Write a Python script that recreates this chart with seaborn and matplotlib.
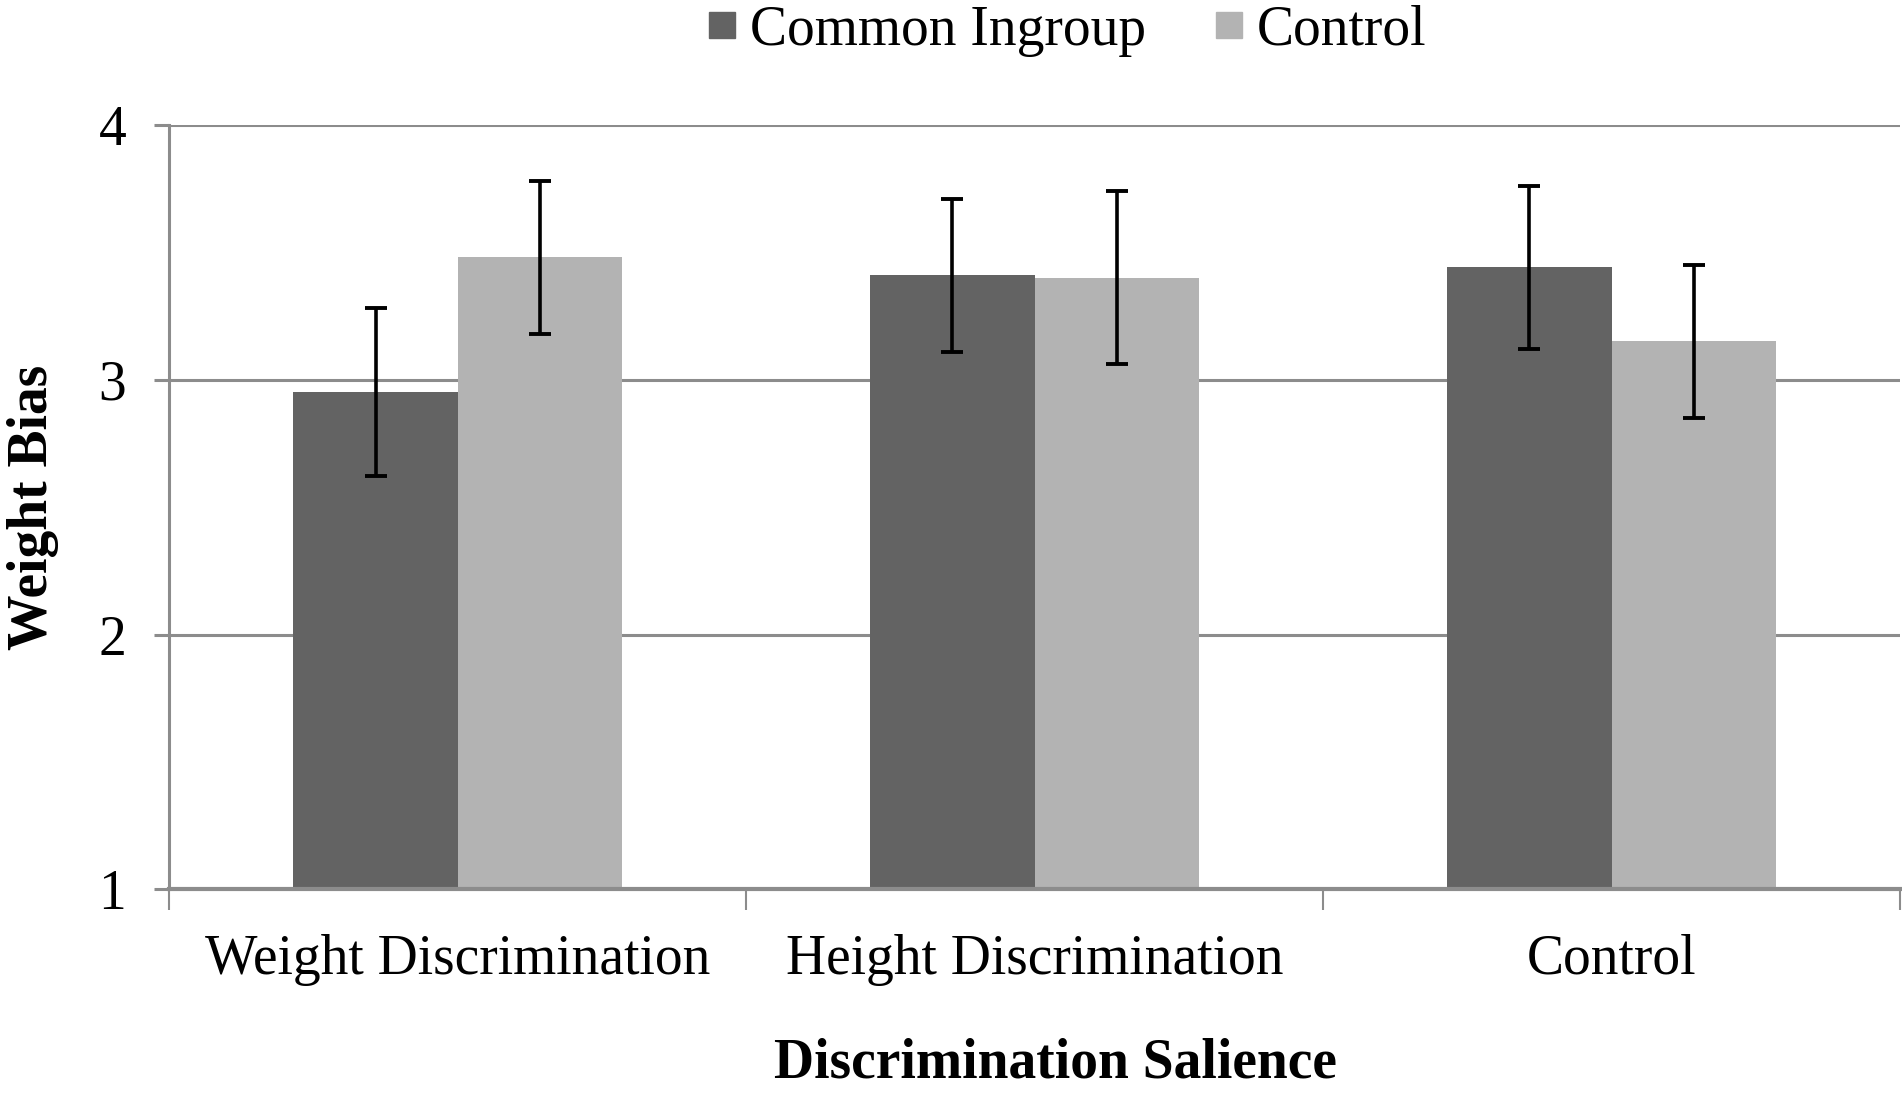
import numpy as np
import pandas as pd
import matplotlib
matplotlib.use('Agg')
import matplotlib.pyplot as plt
import seaborn as sns
from matplotlib.lines import Line2D
from matplotlib.ticker import FixedLocator

# Dati
categories = ['Weight Discrimination', 'Height Discrimination', 'Control']
groups = ['Common Ingroup', 'Control']
common_means = [2.95, 3.41, 3.44]
common_err = [0.33, 0.30, 0.32]
control_means = [3.48, 3.40, 3.15]
control_err = [0.30, 0.34, 0.30]

colors = ['#636363', '#b3b3b3']

df = pd.DataFrame({
    'category': categories * 2,
    'group': [groups[0]] * 3 + [groups[1]] * 3,
    'value': common_means + control_means,
})
errors = [common_err, control_err]
means = [common_means, control_means]

sns.set_style('white')
plt.rcParams['font.family'] = ['Liberation Serif', 'DejaVu Serif']
plt.rcParams['text.color'] = 'black'
plt.rcParams['xtick.color'] = 'black'
plt.rcParams['ytick.color'] = 'black'
plt.rcParams['axes.labelcolor'] = 'black'

fig, ax = plt.subplots(figsize=(19.02, 10.94), dpi=100)
fig.subplots_adjust(left=0.089, right=0.999, top=0.886, bottom=0.187)

sns.barplot(data=df, x='category', y='value', hue='group', order=categories,
            hue_order=groups, palette=colors, width=0.57, saturation=1,
            errorbar=None, ax=ax, legend=False, linewidth=0, zorder=2)

# Barre di errore al centro di ogni barra
for cont, m, e in zip(ax.containers, means, errors):
    xs = [p.get_x() + p.get_width() / 2 for p in cont.patches]
    ax.errorbar(xs, m, yerr=e, fmt='none', ecolor='black', elinewidth=2.6,
                capsize=8, capthick=2.8, zorder=3)

ax.set_ylim(1, 4)
ax.set_xlim(-0.5, 2.5)
ax.set_yticks([1, 2, 3, 4])
ax.yaxis.grid(True, color='#8c8c8c', linewidth=2.2, zorder=0)
ax.set_axisbelow(True)

for s in ['top', 'right']:
    ax.spines[s].set_visible(False)
ax.spines['left'].set_color('#8c8c8c')
ax.spines['left'].set_linewidth(2.2)
ax.spines['bottom'].set_color('#8c8c8c')
ax.spines['bottom'].set_linewidth(3)
ax.spines['bottom'].set_zorder(4)

ax.tick_params(axis='y', which='major', length=11, width=2.2, color='#8c8c8c',
               left=True, labelsize=40, pad=20)
ax.tick_params(axis='x', which='major', length=0, labelsize=40, pad=32)
ax.xaxis.set_minor_locator(FixedLocator([-0.5, 0.5, 1.5, 2.5]))
ax.tick_params(axis='x', which='minor', length=15, width=1.5, color='#8c8c8c',
               bottom=True, direction='out')

ax.set_xlabel('Discrimination Salience', fontsize=40, fontweight='bold', labelpad=37)
ax.xaxis.label.set_x(0.512)
ax.set_ylabel('Weight Bias', fontsize=40, fontweight='bold', labelpad=28)

handles = [Line2D([], [], marker='s', linestyle='none', markersize=19,
                  markerfacecolor=c, markeredgecolor=c) for c in colors]
fig.legend(handles, groups, loc='center', bbox_to_anchor=(0.559, 0.972), ncol=2,
           frameon=False, fontsize=40, handletextpad=0.1, columnspacing=1.1,
           handlelength=0.8)

plt.savefig('out.png', dpi=100)
